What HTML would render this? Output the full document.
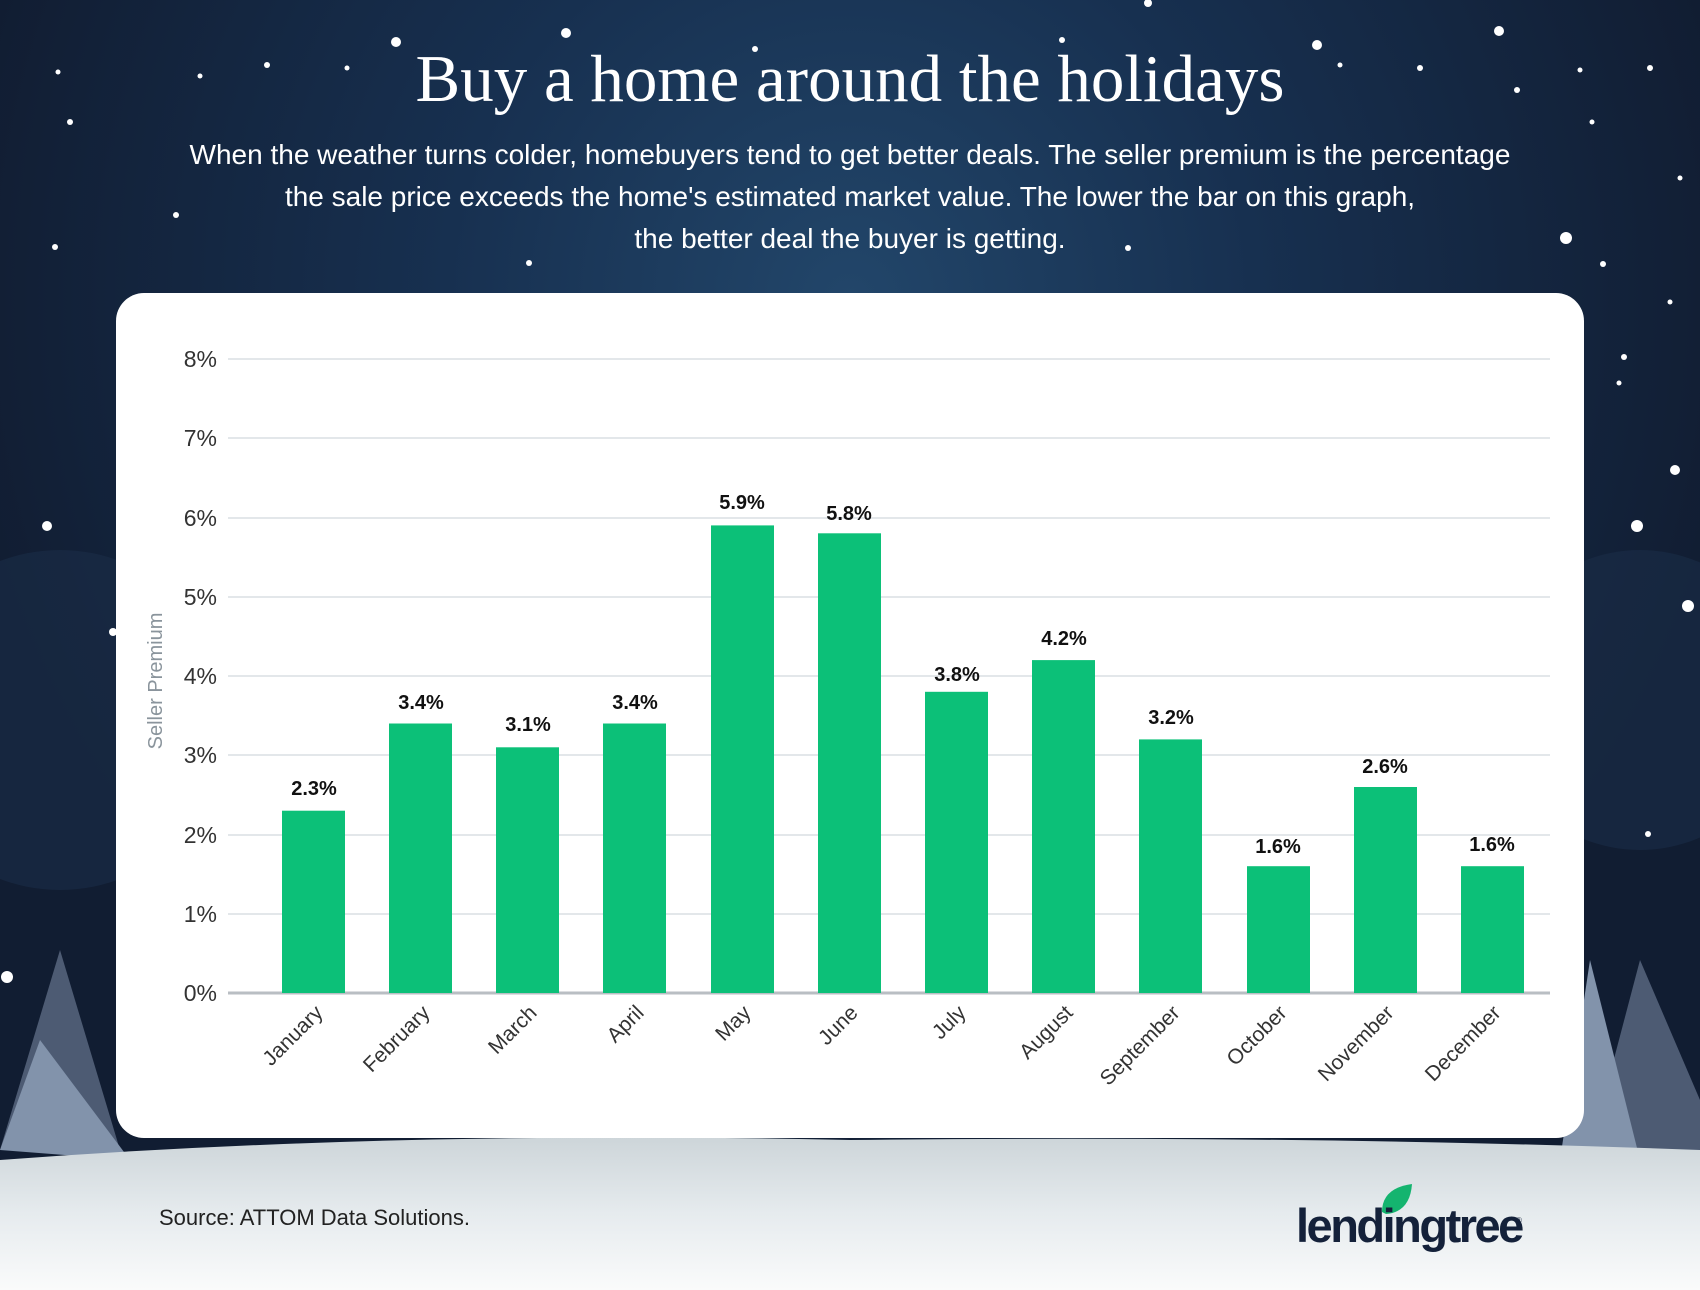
<!DOCTYPE html>
<html><head><meta charset="utf-8"><style>
html,body{margin:0;padding:0;width:1700px;height:1290px;overflow:hidden;background:#13213a}
svg{display:block}
</style></head><body>
<svg width="1700" height="1290" viewBox="0 0 1700 1290" xmlns="http://www.w3.org/2000/svg">
<defs>
<radialGradient id="bg" cx="850" cy="300" r="900" gradientUnits="userSpaceOnUse">
<stop offset="0" stop-color="#22466a"/><stop offset="0.45" stop-color="#173050"/><stop offset="1" stop-color="#111d32"/>
</radialGradient>
<linearGradient id="snow" x1="0" y1="0" x2="0" y2="1">
<stop offset="0" stop-color="#cdd5d9"/><stop offset="0.5" stop-color="#e6ebee"/><stop offset="1" stop-color="#fafbfb"/>
</linearGradient>
</defs>
<rect width="1700" height="1290" fill="url(#bg)"/>
<circle cx="60" cy="720" r="170" fill="#1a2d48" opacity="0.6"/>
<circle cx="1640" cy="700" r="150" fill="#1a2d48" opacity="0.6"/>
<path d="M0 1150 L60 950 L120 1150 Z" fill="#4d5b73"/>
<path d="M0 1150 L40 1040 L130 1160 Z" fill="#8293ab"/>
<path d="M1590 1150 L1640 960 L1700 1100 L1700 1160 Z" fill="#4d5b73"/>
<path d="M1560 1160 L1590 960 L1640 1160 Z" fill="#8293ab"/>
<g fill="#fff">
<circle cx="396" cy="42" r="5"/><circle cx="566" cy="33" r="5"/><circle cx="755" cy="49" r="3"/><circle cx="1062" cy="40" r="3"/><circle cx="1317" cy="45" r="5"/><circle cx="1499" cy="31" r="5"/><circle cx="1148" cy="3" r="4"/>
<circle cx="58" cy="72" r="2.5"/><circle cx="200" cy="76" r="2.5"/><circle cx="267" cy="65" r="3"/><circle cx="347" cy="68" r="2.5"/><circle cx="1340" cy="65" r="2.5"/><circle cx="1420" cy="68" r="3"/><circle cx="1517" cy="90" r="3"/><circle cx="1580" cy="70" r="2.5"/><circle cx="1650" cy="68" r="3"/>
<circle cx="70" cy="122" r="3"/><circle cx="1592" cy="122" r="2.5"/><circle cx="1680" cy="178" r="2.5"/>
<circle cx="176" cy="215" r="3"/><circle cx="55" cy="247" r="3"/><circle cx="529" cy="263" r="3"/><circle cx="1128" cy="248" r="3"/><circle cx="1566" cy="238" r="6"/><circle cx="1603" cy="264" r="3"/><circle cx="1670" cy="302" r="2.5"/>
<circle cx="1624" cy="357" r="3"/><circle cx="1619" cy="383" r="2.5"/><circle cx="1675" cy="470" r="5"/><circle cx="47" cy="526" r="5"/><circle cx="1637" cy="526" r="6"/><circle cx="1688" cy="606" r="6"/><circle cx="113" cy="632" r="4"/><circle cx="1648" cy="834" r="3"/><circle cx="7" cy="977" r="6"/>
</g>
<path d="M0 1160 Q400 1130 850 1140 Q1300 1135 1700 1150 L1700 1290 L0 1290 Z" fill="url(#snow)"/>
<text x="850" y="101" text-anchor="middle" font-family="Liberation Serif, serif" font-size="67" fill="#fff">Buy a home around the holidays</text>
<g font-family="Liberation Sans, sans-serif" font-size="28" fill="#fff" text-anchor="middle">
<text x="850" y="164">When the weather turns colder, homebuyers tend to get better deals. The seller premium is the percentage</text>
<text x="850" y="206">the sale price exceeds the home's estimated market value. The lower the bar on this graph,</text>
<text x="850" y="248">the better deal the buyer is getting.</text>
</g>
<rect x="116" y="293" width="1468" height="845" rx="28" fill="#fff"/>
<g stroke="#e3e7ea" stroke-width="2">
<line x1="228" y1="359" x2="1550" y2="359"/><line x1="228" y1="438" x2="1550" y2="438"/><line x1="228" y1="518" x2="1550" y2="518"/><line x1="228" y1="597" x2="1550" y2="597"/><line x1="228" y1="676" x2="1550" y2="676"/><line x1="228" y1="755" x2="1550" y2="755"/><line x1="228" y1="835" x2="1550" y2="835"/><line x1="228" y1="914" x2="1550" y2="914"/>
</g>
<line x1="228" y1="993" x2="1550" y2="993" stroke="#b9bec3" stroke-width="3"/>
<g font-family="Liberation Sans, sans-serif" font-size="23" fill="#333" text-anchor="end">
<text x="217" y="367">8%</text><text x="217" y="446">7%</text><text x="217" y="526">6%</text><text x="217" y="605">5%</text><text x="217" y="684">4%</text><text x="217" y="763">3%</text><text x="217" y="843">2%</text><text x="217" y="922">1%</text><text x="217" y="1001">0%</text>
</g>
<text transform="translate(162,681) rotate(-90)" text-anchor="middle" font-family="Liberation Sans, sans-serif" font-size="20" fill="#8a949c">Seller Premium</text>
<g fill="#0cc078">
<rect x="282" y="810.7" width="63" height="182.3"/>
<rect x="389" y="723.5" width="63" height="269.5"/>
<rect x="496" y="747.3" width="63" height="245.7"/>
<rect x="603" y="723.5" width="63" height="269.5"/>
<rect x="711" y="525.4" width="63" height="467.6"/>
<rect x="818" y="533.3" width="63" height="459.7"/>
<rect x="925" y="691.8" width="63" height="301.2"/>
<rect x="1032" y="660.1" width="63" height="332.9"/>
<rect x="1139" y="739.4" width="63" height="253.6"/>
<rect x="1247" y="866.2" width="63" height="126.8"/>
<rect x="1354" y="787" width="63" height="206"/>
<rect x="1461" y="866.2" width="63" height="126.8"/>
</g>
<g font-family="Liberation Sans, sans-serif" font-size="20" font-weight="bold" fill="#111" text-anchor="middle">
<text x="314" y="795">2.3%</text><text x="421" y="709">3.4%</text><text x="528" y="731">3.1%</text><text x="635" y="709">3.4%</text><text x="742" y="509">5.9%</text><text x="849" y="520">5.8%</text><text x="957" y="681">3.8%</text><text x="1064" y="645">4.2%</text><text x="1171" y="724">3.2%</text><text x="1278" y="853">1.6%</text><text x="1385" y="773">2.6%</text><text x="1492" y="851">1.6%</text>
</g>
<g font-family="Liberation Sans, sans-serif" font-size="21" fill="#333" text-anchor="end">
<text transform="translate(324,1014) rotate(-45)">January</text>
<text transform="translate(431,1014) rotate(-45)">February</text>
<text transform="translate(538,1014) rotate(-45)">March</text>
<text transform="translate(645,1014) rotate(-45)">April</text>
<text transform="translate(752,1014) rotate(-45)">May</text>
<text transform="translate(859,1014) rotate(-45)">June</text>
<text transform="translate(967,1014) rotate(-45)">July</text>
<text transform="translate(1074,1014) rotate(-45)">August</text>
<text transform="translate(1181,1014) rotate(-45)">September</text>
<text transform="translate(1288,1014) rotate(-45)">October</text>
<text transform="translate(1395,1014) rotate(-45)">November</text>
<text transform="translate(1502,1014) rotate(-45)">December</text>
</g>
<text x="159" y="1225" font-family="Liberation Sans, sans-serif" font-size="22" fill="#222">Source: ATTOM Data Solutions.</text>
<path d="M1382 1212 Q1382 1188 1412 1184 Q1410 1212 1386 1214 Z" fill="#14b46f"/>
<text x="1296" y="1242" font-family="Liberation Sans, sans-serif" font-size="47" font-weight="bold" fill="#14213a" letter-spacing="-2.5">lendingtree</text>
<text x="1516" y="1223" font-family="Liberation Sans, sans-serif" font-size="8" fill="#14213a">®</text>
</svg>
</body></html>
